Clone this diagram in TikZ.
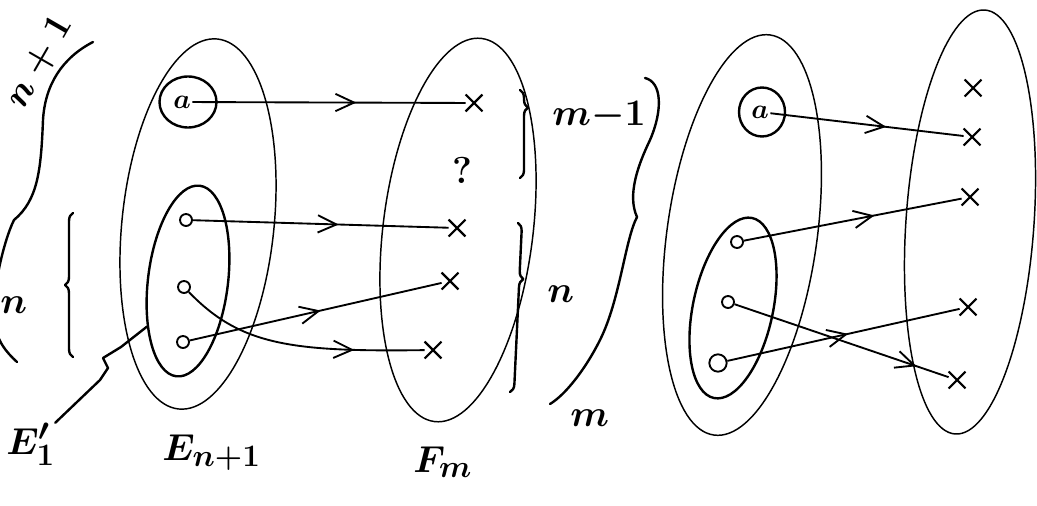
\documentclass[tikz,border=0pt]{standalone}
\usepackage{tikz}
\usetikzlibrary{shapes.geometric, shapes.misc, arrows.meta, decorations.markings, decorations.pathreplacing, calc}

\newcommand{\px}{0.75pt}

\begin{document}
\begin{tikzpicture}[
    x=0.75pt, y=-0.75pt,
    set/.style={draw, ellipse, line width=1.1pt, inner sep=0pt},
    subset/.style={draw, ellipse, line width=1.8pt, inner sep=0pt},
    ring/.style={draw, ellipse, line width=1.8pt, inner sep=0pt},
    elem/.style={draw, circle, line width=1.4pt, inner sep=0pt, minimum size=9pt},
    img/.style={draw, cross out, line width=1.6pt, inner sep=0pt, minimum size=11pt},
    lbl/.style={font=\Huge\boldmath, inner sep=0pt, scale=1.13, transform shape},
    letter/.style={font=\huge\boldmath, inner sep=1pt},
    hand/.style={line width=1.8pt, line cap=round, line join=round},
    curly/.style={hand, decorate, decoration={brace, amplitude=6pt, aspect=#1}},
    curly/.default=0.5,
    map/.style={line width=1.4pt, postaction={decorate}, decoration={markings,
        mark=at position #1 with {\arrow{Straight Barb[length=14pt, width=13pt, line width=1.4pt]}}}},
    map/.default=0.55,
]
\path[use as bounding box, fill=white] (0,0) rectangle (1037,506);

% left: E_{n+1} and its part E'
\node[set, minimum width=152*\px, minimum height=372*\px, rotate=-6] (E) at (198,224) {};
\node[subset, minimum width=80*\px, minimum height=192*\px, rotate=-7] (Esub) at (188,281) {};
\node[letter] (a) at (182,102) {$a$};
\node[ring, minimum width=57*\px, minimum height=51*\px] (ringa) at (188,102) {};
\node[elem] (o1) at (186,220) {};
\node[elem] (o2) at (184,287) {};
\node[elem] (o3) at (183,342) {};

% F_m
\node[set, minimum width=150*\px, minimum height=386*\px, rotate=-7] (F) at (458,230) {};
\node[img] (y1) at (474,103) {};
\node[lbl] (q) at (462,170) {\textbf{?}};
\node[img] (y2) at (457,228) {};
\node[img] (y3) at (450,281) {};
\node[img] (y4) at (433,350) {};

\draw[map=0.6] (a) -- (y1);
\draw[map=0.57] (o1) -- (y2);
\draw[map=0.52] (o3) -- (y3);
\draw[map=0.72] (o2) .. controls (240,345) and (290,352) .. (y4);

% braces and counts
\draw[hand] (93,42) .. controls (62,58) and (45,85) .. (43,120)
    .. controls (41,170) and (38,200) .. (14,220)
    .. controls (4,240) and (-8,290) .. (-6,320)
    .. controls (-4,340) and (6,352) .. (17,362);
\node[lbl, rotate=60] (cntE) at (40,62) {$n+1$};
\draw[curly] (73,357) -- (73,213);
\node[lbl, anchor=base west] (cntEsub) at (0,313) {$n$};
\draw[curly=0.2] (520,90) -- (520,178);
\node[lbl, anchor=base west] (cntTop) at (552,126) {$m{-}1$};
\draw[curly=0.33] (518,223) -- (510,392);
\node[lbl, anchor=base west] (cntBot) at (547,302) {$n$};
\draw[hand] (645,78) .. controls (662,82) and (663,110) .. (650,140)
    .. controls (638,165) and (627,195) .. (637,217)
    .. controls (625,240) and (620,300) .. (600,340)
    .. controls (585,370) and (565,395) .. (550,404);
\node[lbl, anchor=base west] (cntF) at (570,426) {$m$};

% names
\node[lbl, anchor=base west] (Elab) at (6,454) {$E'_1$};
\node[lbl, anchor=base west] (Enlab) at (162,460) {$E_{n+1}$};
\node[lbl, anchor=base west] (Flab) at (413,472) {$F_m$};
\draw[hand] (Elab.north east) -- (100,380) -- (108,368) -- (103,358) -- (121,347) -- (Esub.235);

% right: second map
\node[set, minimum width=150*\px, minimum height=404*\px, rotate=-8] (G) at (742,235) {};
\node[subset, minimum width=80*\px, minimum height=184*\px, rotate=-12] (Gsub) at (733,308) {};
\node[letter] (b) at (760,112) {$a$};
\node[ring, minimum width=46*\px, minimum height=49*\px] (ringb) at (762,112) {};
\node[elem] (p1) at (737,242) {};
\node[elem] (p2) at (728,302) {};
\node[elem, minimum size=13pt] (p3) at (718,363) {};

\node[set, minimum width=128*\px, minimum height=425*\px, rotate=-4] (H) at (970,222) {};
\node[img] (z1) at (973,88) {};
\node[img] (z2) at (972,137) {};
\node[img] (z3) at (970,197) {};
\node[img] (z4) at (968,307) {};
\node[img] (z5) at (957,380) {};

\draw[map=0.6] (b) -- (z2);
\draw[map=0.6] (p1) -- (z3);
\draw[map=0.52] (p3) -- (z4);
\draw[map=0.85] (p2) -- (z5);
\end{tikzpicture}
\end{document}
